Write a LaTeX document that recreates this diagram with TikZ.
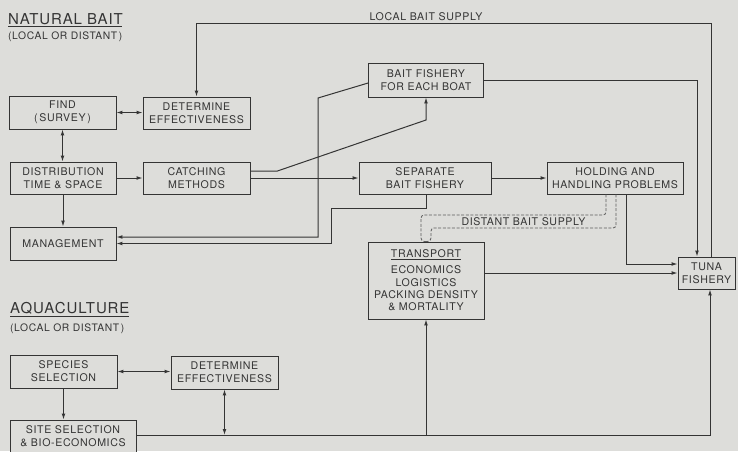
\documentclass[tikz,border=0pt]{standalone}
\usepackage{fontspec}
\setmainfont{TeX Gyre Heros}[LetterSpace=6]
\usepackage{xcolor}
\usetikzlibrary{arrows.meta, calc}

\definecolor{paper}{RGB}{221,221,218}
\definecolor{ink}{RGB}{52,52,52}

\tikzset{
  box/.style={draw=ink, line width=0.8pt, fill=paper, text=ink, align=center, inner sep=1pt,
    font=\fontsize{10.6}{13}\selectfont},
  wire/.style={draw=ink, line width=1pt},
  dashwire/.style={draw=ink!80, line width=0.8pt, dash pattern=on 3pt off 1.6pt},
  head/.style={text=ink, anchor=base west, inner sep=0pt, font=\fontsize{15}{18}\selectfont},
  subhead/.style={text=ink, anchor=base west, inner sep=0pt, font=\fontsize{10.3}{12}\selectfont},
  tag/.style={text=ink, inner sep=2pt, font=\fontsize{10.6}{13}\selectfont},
}

\begin{document}
\begin{tikzpicture}[x=1pt, y=-1pt, >={Latex[length=6pt,width=3.8pt]}]
    \fill[paper] (0,0) rectangle (738,451);
    \useasboundingbox (0,0) rectangle (738,451);

    % headings
    \node[head] (natbait) at (8,24) {NATURAL BAIT};
    \draw[ink, line width=1.1pt] ([yshift=-2.3pt]natbait.south west) -- ([yshift=-2.3pt,xshift=-1pt]natbait.south east);
    \node[subhead] (natsub) at (8,39) {(LOCAL OR DISTANT\,)};
    \node[head] (aqua) at (10,313) {AQUACULTURE};
    \draw[ink, line width=1.1pt] ([yshift=-2.3pt]aqua.south west) -- ([yshift=-2.3pt,xshift=-1pt]aqua.south east);
    \node[subhead] (aquasub) at (10,331) {(LOCAL OR DISTANT\,)};

    % natural bait
    \node[box, minimum width=107pt, minimum height=33pt] (find) at (62.5,112.5) {FIND\\(\,SURVEY\,)};
    \node[box, minimum width=107pt, minimum height=32pt] (detA) at (196.5,113) {DETERMINE\\EFFECTIVENESS};
    \node[box, minimum width=106pt, minimum height=32pt] (distr) at (63,178) {DISTRIBUTION\\TIME \& SPACE};
    \node[box, minimum width=107pt, minimum height=32pt] (catch) at (196.5,178) {CATCHING\\METHODS};
    \node[box, minimum width=106pt, minimum height=33pt] (manage) at (63,243.5) {MANAGEMENT};
    \node[box, minimum width=115pt, minimum height=34pt] (boat) at (426,80) {BAIT FISHERY\\FOR EACH BOAT};
    \node[box, minimum width=132pt, minimum height=32pt] (sep) at (425,178) {SEPARATE\\BAIT FISHERY};
    \node[box, minimum width=136pt, minimum height=32pt] (hold) at (615,178) {HOLDING AND\\HANDLING PROBLEMS};
    \node[box, minimum width=116pt, minimum height=77pt, font=\fontsize{10.6}{12.4}\selectfont] (transport) at (426,280.5)
        {\underline{TRANSPORT}\\[3.4pt]ECONOMICS\\LOGISTICS\\PACKING DENSITY\\\& MORTALITY};
    \node[box, minimum width=57pt, minimum height=32pt] (tuna) at (706.5,273) {TUNA\\FISHERY};

    % aquaculture
    \node[box, minimum width=107pt, minimum height=33pt] (species) at (63.5,371.5) {SPECIES\\SELECTION};
    \node[box, minimum width=107pt, minimum height=33pt] (detB) at (224.5,372.5) {DETERMINE\\EFFECTIVENESS};
    \node[box, minimum width=126pt, minimum height=33pt] (site) at (73,436.5) {SITE SELECTION\\\& BIO-ECONOMICS};

    % natural bait links
    \draw[wire,<->] (find.east) -- (find.east -| detA.west);
    \draw[wire,<->] (find.south) -- (find.south |- distr.north);
    \draw[wire,->] (distr.east) -- (catch.west);
    \draw[wire,->] (distr.south) -- (manage.north);
    \draw[wire,->] ([yshift=7pt]catch.east) -- ++(27,0) -- (boat.south |- 0,120) -- (boat.south);
    \draw[wire,->] (catch.east) -- (sep.west);
    \draw[wire,->] ([yshift=-3pt]boat.west) -- (318,98) -- (318,237) -- ([yshift=6.5pt]manage.east);
    \draw[wire,->] ([xshift=1pt]sep.south) -- (426,208) -- (331,208) -- (331,243.5) -- (manage.east);
    \draw[wire,->] (sep.east) -- (hold.west);
    \draw[wire,->] ([xshift=11pt]hold.south) -- (626,264) -- ([yshift=9pt]tuna.west);
    \draw[wire,->] ([yshift=7.5pt]transport.east) -- (tuna.west);
    \draw[wire,->] (boat.east) -- (697,80) -- ([xshift=-9.5pt]tuna.north);
    \draw[wire,->] ([xshift=4.5pt]tuna.north) -- (711,23)
        -- node[tag, above, pos=0.554] {LOCAL BAIT SUPPLY} (196.5,23) -- (detA.north);

    % distant supply
    \draw[dashwire, rounded corners=3pt] ([xshift=-9pt]hold.south) -- (606,215) -- (421,215) -- (421,241) -- (transport.north);
    \draw[dashwire, rounded corners=3pt] ([xshift=1pt]hold.south) -- (616,228)
        -- node[tag, above, pos=0.5] {DISTANT BAIT SUPPLY} (431,228) -- (431,241) -- (transport.north);

    % aquaculture links
    \coordinate (sline) at ([yshift=1.5pt]site.east);
    \coordinate (tin) at ([xshift=3.5pt]tuna.south);
    \draw[wire,<->] (species.east) -- (species.east -| detB.west);
    \draw[wire,->] (species.south) -- (species.south |- site.north);
    \draw[wire,->] (sline) -- (tin |- sline) -- (tin);
    \draw[wire,->] (transport.south |- sline) -- (transport.south);
    \draw[wire,<->] (detB.south) -- (detB.south |- sline);
\end{tikzpicture}
\end{document}
